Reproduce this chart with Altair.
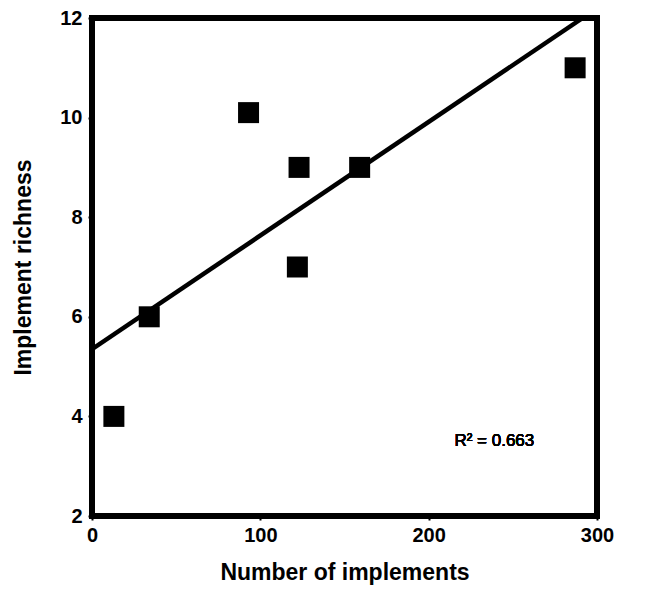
import altair as alt
import pandas as pd

# Data
implements = [13, 34, 93, 123, 122, 159, 287]
richness = [4.0, 6.0, 10.1, 9.0, 7.0, 9.0, 11.0]

# Printed regression line
fit_x = [0, 291.5]
fit_y = [5.35, 12.0]

r2_label = "R² = 0.663"

x_ticks = [0, 100, 200, 300]
y_ticks = [2, 4, 6, 8, 10, 12]

pts = pd.DataFrame({"x": implements, "y": richness})
fit = pd.DataFrame({"x": fit_x, "y": fit_y})

FONT = "Liberation Sans"

xscale = alt.Scale(domain=[0, 300], nice=False)
yscale = alt.Scale(domain=[2, 12], nice=False, zero=False)

xaxis = alt.Axis(
    title="Number of implements", values=x_ticks, grid=False, domain=False,
    labelFlush=False, labelOverlap=False, tickSize=4, tickWidth=2, tickColor="black",
    labelFont=FONT, labelFontSize=20, labelFontWeight="bold", labelColor="black",
    labelPadding=5,
    titleFont=FONT, titleFontSize=23, titleFontWeight="bold", titleColor="black",
    titlePadding=16,
)
yaxis = alt.Axis(
    title="Implement richness", values=y_ticks, grid=False, domain=False,
    labelFlush=False, labelOverlap=False, tickSize=4, tickWidth=2, tickColor="black",
    labelFont=FONT, labelFontSize=20, labelFontWeight="bold", labelColor="black",
    labelPadding=6,
    titleFont=FONT, titleFontSize=23, titleFontWeight="bold", titleColor="black",
    titlePadding=24,
)

line = alt.Chart(fit).mark_line(color="black", strokeWidth=4.5, clip=True).encode(
    x=alt.X("x:Q", scale=xscale, axis=xaxis),
    y=alt.Y("y:Q", scale=yscale, axis=yaxis),
)

points = alt.Chart(pts).mark_square(size=441, color="black", opacity=1).encode(
    x=alt.X("x:Q", scale=xscale),
    y=alt.Y("y:Q", scale=yscale),
)

label = alt.Chart(pts).mark_text(
    text=r2_label, font=FONT, fontSize=17, fontWeight="normal", color="black",
    align="center", baseline="middle"
).encode(x=alt.datum(239), y=alt.datum(3.5))

chart = (
    alt.layer(line, points, label)
    .properties(
        width=505, height=498,
        autosize=alt.AutoSizeParams(type="none"),
        padding={"left": 84, "top": 10, "right": 30, "bottom": 70},
        background="white",
    )
    .configure_view(stroke="black", strokeWidth=6)
)

chart.save("out.html", embed_options={"renderer": "svg", "actions": False})
